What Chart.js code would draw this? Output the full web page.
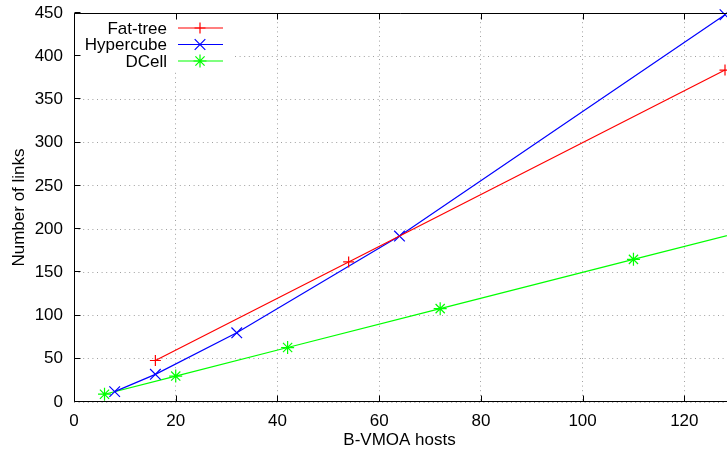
<!DOCTYPE html>
<html>
<head>
<meta charset="utf-8">
<script src="https://cdn.jsdelivr.net/npm/chart.js@4/dist/chart.umd.min.js"></script>
<style>
  html, body { margin: 0; padding: 0; background: #fff; }
  #c { display: block; }
</style>
</head>
<body>
<canvas id="c" width="727" height="457"></canvas>
<script>
// ---- data ----
const fatTreeHosts = [16, 54, 128];
const fatTreeLinks = [48, 162, 384];
const hypercubeHosts = [8, 16, 32, 64, 128];
const hypercubeLinks = [12, 32, 80, 192, 448];
const dcellHosts = [6, 20, 42, 72, 110, 132];
const dcellLinks = [9, 30, 63, 108, 165, 198];

const xTicks = [0, 20, 40, 60, 80, 100, 120];
const yTicks = [0, 50, 100, 150, 200, 250, 300, 350, 400, 450];

const seriesNames = ['Fat-tree', 'Hypercube', 'DCell'];
const xTitle = 'B-VMOA hosts';
const yTitle = 'Number of links';

// ---- styles ----
const FONT = '"Liberation Sans", Arial, Helvetica, sans-serif';
const FS = 17;
const colors = ['#ff0000', '#0000ff', '#00ff00'];
const pointStyles = ['cross', 'crossRot', 'star'];
const pointRadii = [5.5, 7.5, 6.5];
const LW = 1.2;

function toPoints(xs, ys) { return xs.map((x, i) => ({ x: x, y: ys[i] })); }

const datasets = [
  toPoints(fatTreeHosts, fatTreeLinks),
  toPoints(hypercubeHosts, hypercubeLinks),
  toPoints(dcellHosts, dcellLinks)
].map((d, i) => ({
  label: seriesNames[i],
  data: d,
  borderColor: colors[i],
  backgroundColor: colors[i],
  borderWidth: LW,
  pointStyle: pointStyles[i],
  pointRadius: pointRadii[i],
  pointHoverRadius: pointRadii[i],
  pointBorderWidth: LW,
  pointBorderColor: colors[i],
  tension: 0,
  clip: false
}));

function drawMarker(ctx, style, x, y, r) {
  ctx.beginPath();
  if (style === 'cross' || style === 'star') {
    ctx.moveTo(x - r, y); ctx.lineTo(x + r, y);
    ctx.moveTo(x, y - r); ctx.lineTo(x, y + r);
  }
  if (style === 'crossRot' || style === 'star') {
    const d = r * Math.SQRT1_2;
    ctx.moveTo(x - d, y - d); ctx.lineTo(x + d, y + d);
    ctx.moveTo(x - d, y + d); ctx.lineTo(x + d, y - d);
  }
  ctx.stroke();
}

const gnuplotFrame = {
  id: 'gnuplotFrame',
  beforeDatasetsDraw(chart) {
    const ctx = chart.ctx, a = chart.chartArea;
    ctx.save();
    ctx.fillStyle = '#fff';
    ctx.fillRect(a.left + 1, a.top + 1, 158, 58);
    ctx.restore();
  },
  afterDraw(chart) {
    const ctx = chart.ctx, a = chart.chartArea;
    const xs = chart.scales.x, ys = chart.scales.y;
    ctx.save();
    ctx.strokeStyle = '#000';
    ctx.lineWidth = 1;
    const L = Math.round(a.left) + 0.5, T = Math.round(a.top) + 0.5, B = Math.round(a.bottom) - 0.5;
    ctx.beginPath();
    ctx.moveTo(L, T); ctx.lineTo(L, B); ctx.lineTo(chart.width, B);
    ctx.moveTo(L, T); ctx.lineTo(chart.width, T);
    const tl = 6;
    xTicks.forEach(v => {
      const px = Math.round(xs.getPixelForValue(v)) + 0.5;
      ctx.moveTo(px, B); ctx.lineTo(px, B - tl);
      ctx.moveTo(px, T); ctx.lineTo(px, T + tl);
    });
    yTicks.forEach(v => {
      const py = Math.round(ys.getPixelForValue(v)) - 0.5;
      ctx.moveTo(L, py); ctx.lineTo(L + tl, py);
    });
    ctx.stroke();

    ctx.font = FS + 'px ' + FONT;
    ctx.textAlign = 'right';
    ctx.textBaseline = 'middle';
    ctx.fillStyle = '#000';
    const rowY = [28, 44.5, 61];
    seriesNames.forEach((name, i) => {
      const y = rowY[i];
      ctx.fillText(name, 167, y + 1);
      ctx.strokeStyle = colors[i];
      ctx.lineWidth = LW;
      ctx.beginPath();
      ctx.moveTo(178, y); ctx.lineTo(223, y);
      ctx.stroke();
      drawMarker(ctx, pointStyles[i], 200, y, pointRadii[i]);
    });
    ctx.restore();
  }
};

Chart.defaults.color = '#000';
Chart.defaults.font.family = FONT;
Chart.defaults.font.size = FS;

new Chart(document.getElementById('c'), {
  type: 'line',
  data: { datasets: datasets },
  plugins: [gnuplotFrame],
  options: {
    responsive: false,
    animation: false,
    devicePixelRatio: 1,
    layout: { autoPadding: false, padding: { top: 13, right: 2, left: 0, bottom: 0 } },
    plugins: { legend: { display: false }, tooltip: { enabled: false } },
    scales: {
      x: {
        type: 'linear',
        min: 0,
        max: 128,
        afterBuildTicks(scale) { scale.ticks = xTicks.map(v => ({ value: v })); },
        afterFit(scale) { scale.height = 55; scale.paddingLeft = 0; scale.paddingRight = 0; },
        ticks: { padding: 9, maxRotation: 0, autoSkip: false, font: { size: FS } },
        grid: { color: '#a0a0a0', lineWidth: 1, drawTicks: false },
        border: { display: false, dash: [1, 3.6] },
        title: { display: true, text: xTitle, font: { size: FS }, padding: { top: 0, bottom: 6 } }
      },
      y: {
        type: 'linear',
        min: 0,
        max: 450,
        afterBuildTicks(scale) { scale.ticks = yTicks.map(v => ({ value: v })); },
        afterFit(scale) { scale.width = 74; scale.paddingTop = 0; scale.paddingBottom = 0; },
        ticks: { padding: 11, autoSkip: false, font: { size: FS } },
        grid: { color: '#a0a0a0', lineWidth: 1, drawTicks: false },
        border: { display: false, dash: [1, 3.6] },
        title: { display: true, text: yTitle, font: { size: FS }, padding: { top: 9, bottom: 0 } }
      }
    }
  }
});
</script>
</body>
</html>
